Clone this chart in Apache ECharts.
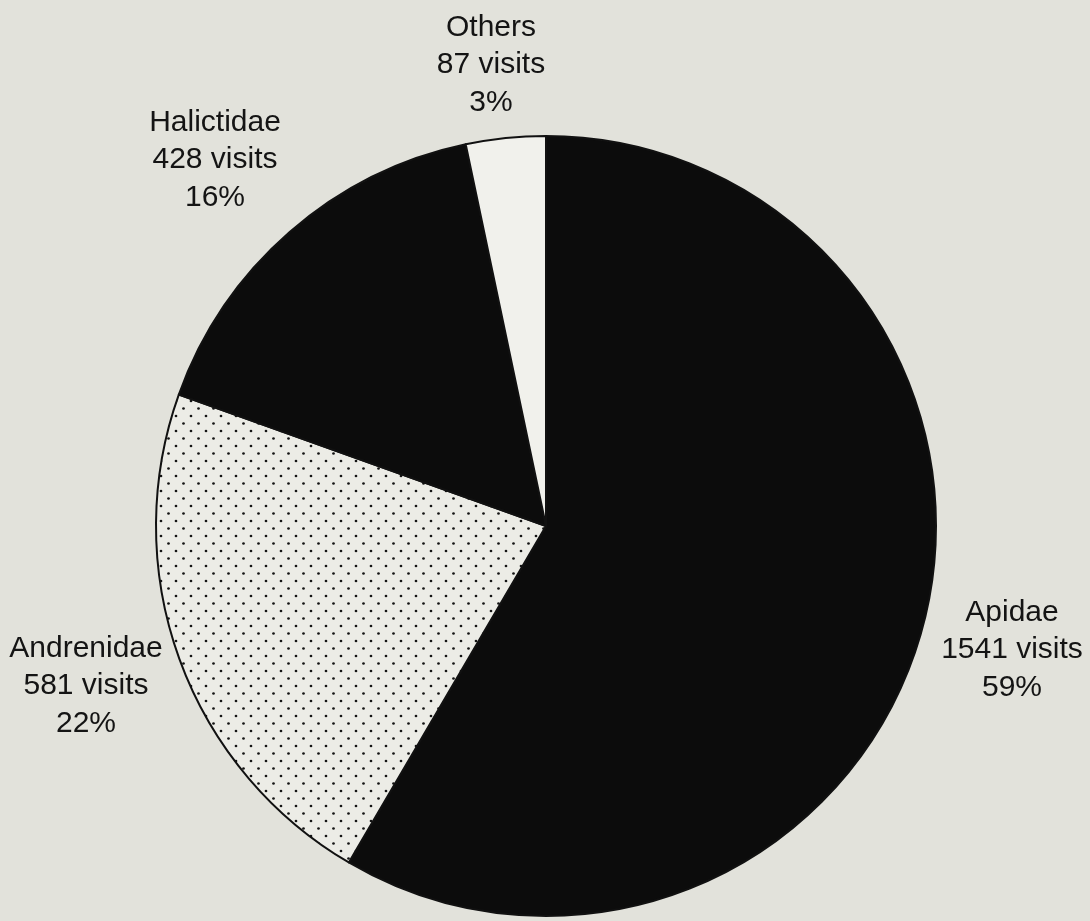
<!DOCTYPE html>
<html>
<head>
<meta charset="utf-8">
<title>Bee family visits</title>
<script src="https://cdn.jsdelivr.net/npm/echarts@6/dist/echarts.min.js"></script>
<style>
  html, body { margin: 0; padding: 0; background: #e2e2db; }
  #chart { width: 1090px; height: 921px; }
</style>
</head>
<body>
<div id="chart"></div>
<script>
// Visits per bee family
const families = ['Apidae', 'Andrenidae', 'Halictidae', 'Others'];
const visits = [1541, 581, 428, 87];

// Stipple fill: staggered dot lattice on a pale ground
function dotPattern() {
  const c = document.createElement('canvas');
  c.width = 15; c.height = 15;
  const g = c.getContext('2d');
  g.fillStyle = '#ecece6';
  g.fillRect(0, 0, 15, 15);
  g.fillStyle = '#151515';
  [[3.5, 3.5], [11, 11]].forEach(function (p) {
    g.beginPath();
    g.arc(p[0], p[1], 1.35, 0, Math.PI * 2);
    g.fill();
  });
  return c;
}

const fills = [
  '#0c0c0c',
  { image: dotPattern(), repeat: 'repeat' },
  '#0c0c0c',
  '#f1f1ec'
];

// Label anchor points (block centres) for each slice
const labelAnchors = [
  [1012, 650],
  [86, 686],
  [215, 160],
  [491, 65]
];

const chart = echarts.init(document.getElementById('chart'), null, { renderer: 'canvas' });

chart.setOption({
  backgroundColor: '#e2e2db',
  animation: false,
  series: [{
    type: 'pie',
    center: [546, 526],
    radius: 390,
    startAngle: 90,
    clockwise: true,
    percentPrecision: 0,
    avoidLabelOverlap: false,
    data: families.map(function (name, i) {
      return { name: name, value: visits[i], itemStyle: { color: fills[i] } };
    }),
    itemStyle: {
      borderColor: '#111111',
      borderWidth: 2
    },
    label: {
      show: true,
      position: 'outside',
      formatter: '{b}\n{c} visits\n{d}%',
      fontFamily: 'Liberation Sans, Arial, sans-serif',
      fontSize: 30,
      lineHeight: 37.5,
      color: '#141414',
      align: 'center'
    },
    labelLine: { show: false },
    labelLayout: function (params) {
      const p = labelAnchors[params.dataIndex];
      return { x: p[0], y: p[1], align: 'center', verticalAlign: 'middle' };
    },
    emphasis: { disabled: true }
  }]
});
</script>
</body>
</html>
